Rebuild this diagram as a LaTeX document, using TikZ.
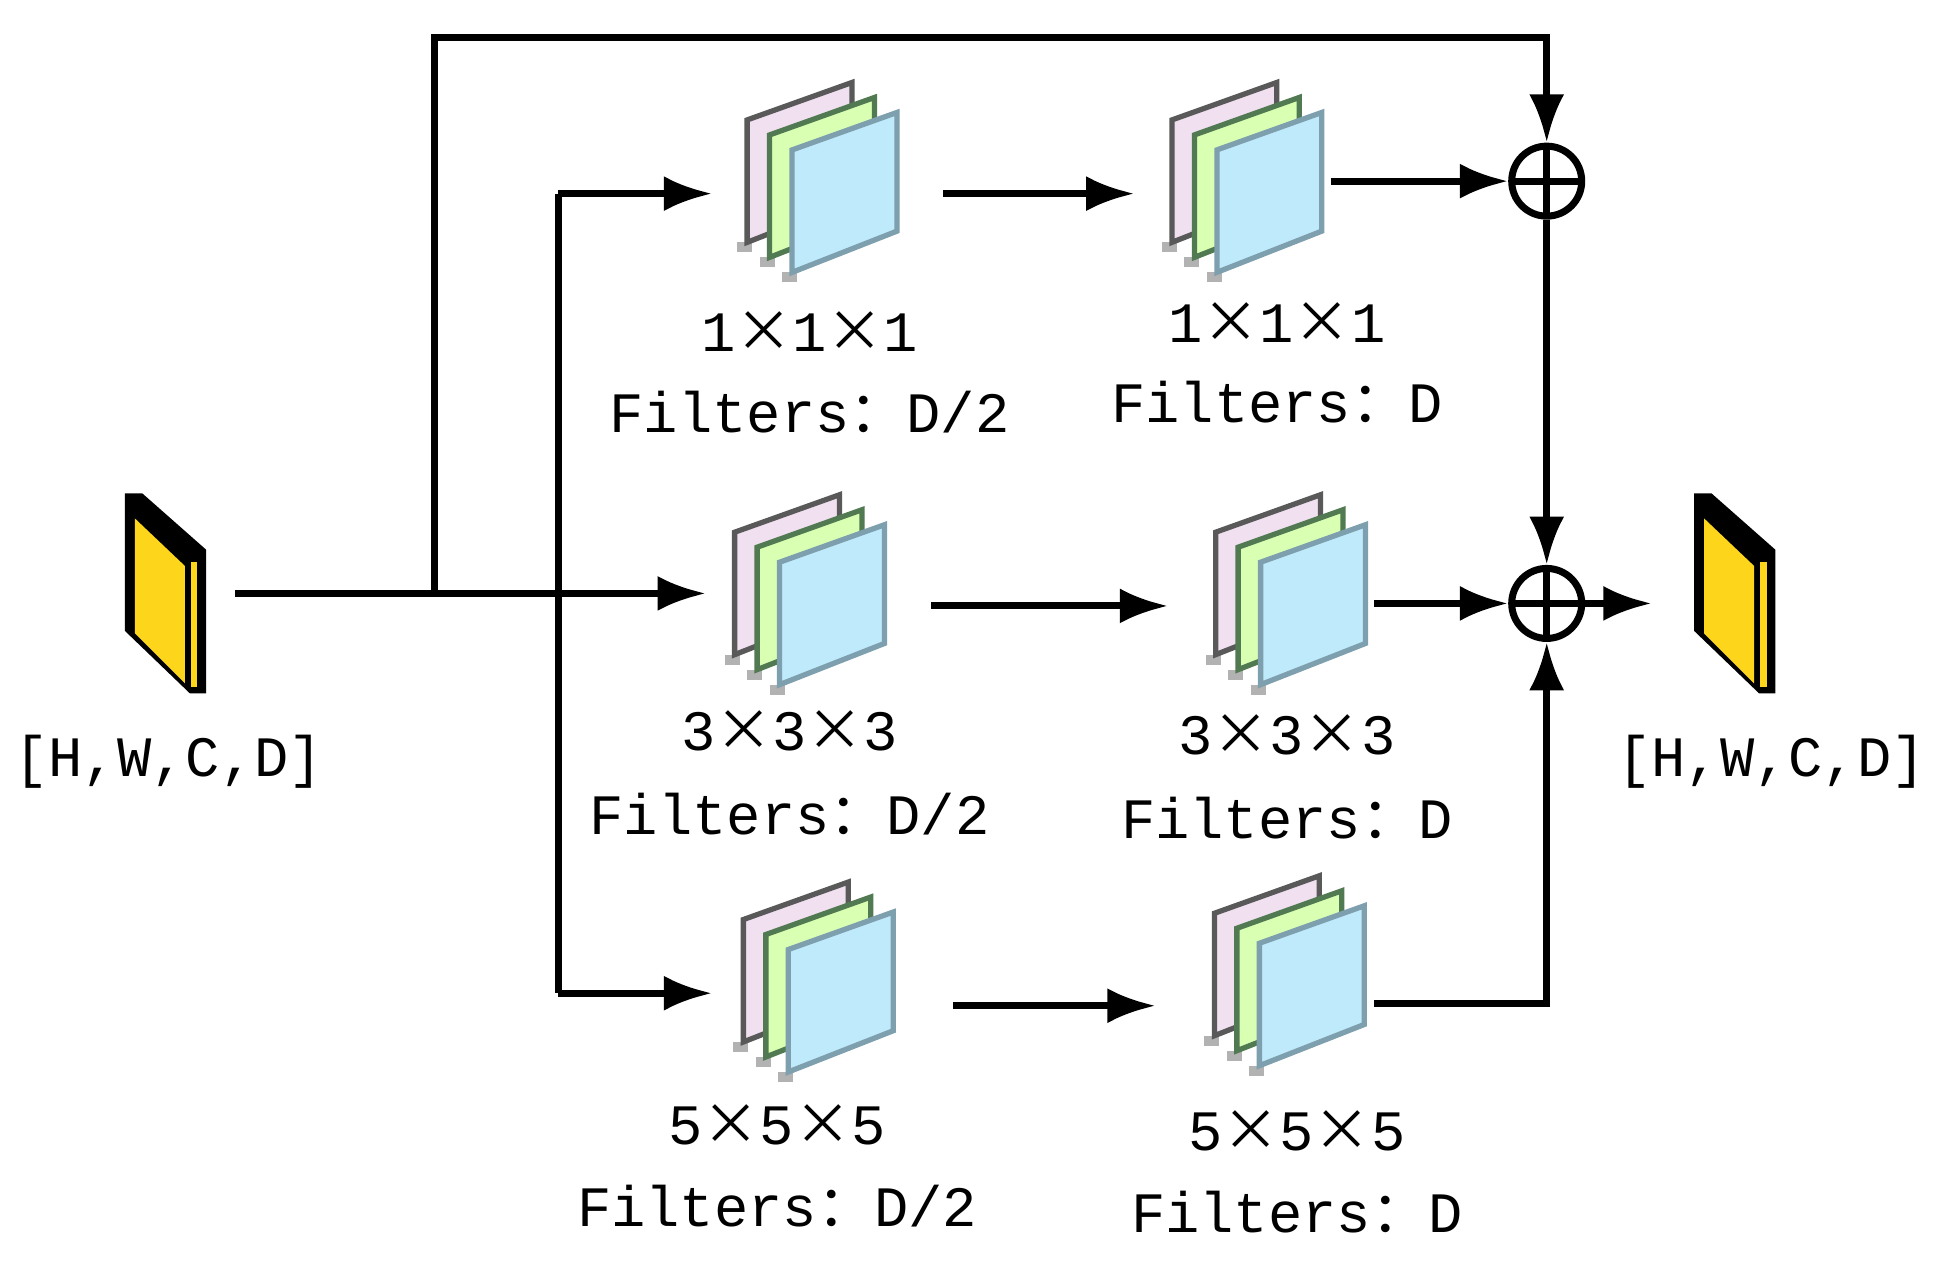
\documentclass[tikz,border=0pt]{standalone}
\usepackage{fontspec}
\setmainfont{Liberation Mono}
\newfontfamily\cjk{Noto Sans CJK SC}
\usetikzlibrary{arrows.meta}
\begin{document}
\begin{tikzpicture}[x=0.01cm,y=-0.01cm,
  lbl/.style={font=\fontsize{13}{15}\selectfont, inner sep=0},
  arr/.style={line width=1.6pt, -{Latex[length=11pt,width=8pt]}},
  ln/.style={line width=1.6pt},
  plus/.style={circle, draw, line width=1.6pt, minimum size=0.56cm, inner sep=0,
    path picture={\draw[line width=1.6pt] (path picture bounding box.north) -- (path picture bounding box.south)
      (path picture bounding box.west) -- (path picture bounding box.east);}},
  filt/.pic={
    \foreach \dx/\dy/\c/\e in {-36/-24/violet!12/gray!70!black, -18/-12/green!50!yellow!30!white/green!20!gray!80!black, 0/0/cyan!25/cyan!30!gray}{
      \fill[gray!60] (-30+\dx,76+\dy) rectangle (-18+\dx,84+\dy);
      \filldraw[fill=\c, draw=\e, line width=1.2pt] (-22+\dx,-22+\dy) -- (62+\dx,-52+\dy) -- (62+\dx,43+\dy) -- (-22+\dx,76+\dy) -- cycle;
    }
  },
  book/.pic={
    \fill[black] (-32,-80) -- (-18,-80) -- (33,-35) -- (33,80) -- (20,80) -- (-32,30) -- cycle;
    \fill[yellow!70!orange!90] (-24,-60) -- (16,-22) -- (16,72) -- (-24,32) -- cycle;
    \fill[yellow!70!orange!90] (21,-25) rectangle (26,75);
  }]
\useasboundingbox (0,0) rectangle (1560,1010);
% input / output
\pic at (132,475) {book};
\pic at (1388,475) {book};
\node[lbl] (inl) at (135,610) {[H,W,C,D]};
\node[lbl] (outl) at (1418,610) {[H,W,C,D]};
\coordinate (in) at (188,475);
\coordinate (out) at (1322,483);
% filters
\pic at (656,142) {filt}; \pic at (996,142) {filt};
\pic at (646,472) {filt}; \pic at (1031,472) {filt};
\pic at (653,782) {filt}; \pic at (1030,777) {filt};
\node[lbl] at (648,265) {1{\cjk ×}1{\cjk ×}1};
\node[lbl] at (648,330) {Filters{\cjk ：}D/2};
\node[lbl] at (1022,258) {1{\cjk ×}1{\cjk ×}1};
\node[lbl] at (1022,322) {Filters{\cjk ：}D};
\node[lbl] at (632,585) {3{\cjk ×}3{\cjk ×}3};
\node[lbl] at (632,652) {Filters{\cjk ：}D/2};
\node[lbl] at (1030,588) {3{\cjk ×}3{\cjk ×}3};
\node[lbl] at (1030,655) {Filters{\cjk ：}D};
\node[lbl] at (622,900) {5{\cjk ×}5{\cjk ×}5};
\node[lbl] at (622,965) {Filters{\cjk ：}D/2};
\node[lbl] at (1038,905) {5{\cjk ×}5{\cjk ×}5};
\node[lbl] at (1038,970) {Filters{\cjk ：}D};
% sums
\node[plus] (p1) at (1238,145) {};
\node[plus] (p2) at (1238,483) {};
% connectors
\coordinate (s) at (348,475);
\draw[arr] (in) -- (565,475);
\draw[arr] (s) |- (1238,30) -- (p1.north);
\draw[ln] (447,155) -- (447,795);
\draw[arr] (447,155) -- (570,155);
\draw[arr] (447,795) -- (570,795);
\draw[arr] (755,155) -- (908,155);
\draw[arr] (1065,145) -- (p1.west);
\draw[arr] (p1.south) -- (p2.north);
\draw[arr] (745,485) -- (935,485);
\draw[arr] (1100,483) -- (p2.west);
\draw[arr] (p2.east) -- (out);
\draw[arr] (763,805) -- (925,805);
\draw[arr] (1100,803) -| (p2.south);
\end{tikzpicture}
\end{document}
